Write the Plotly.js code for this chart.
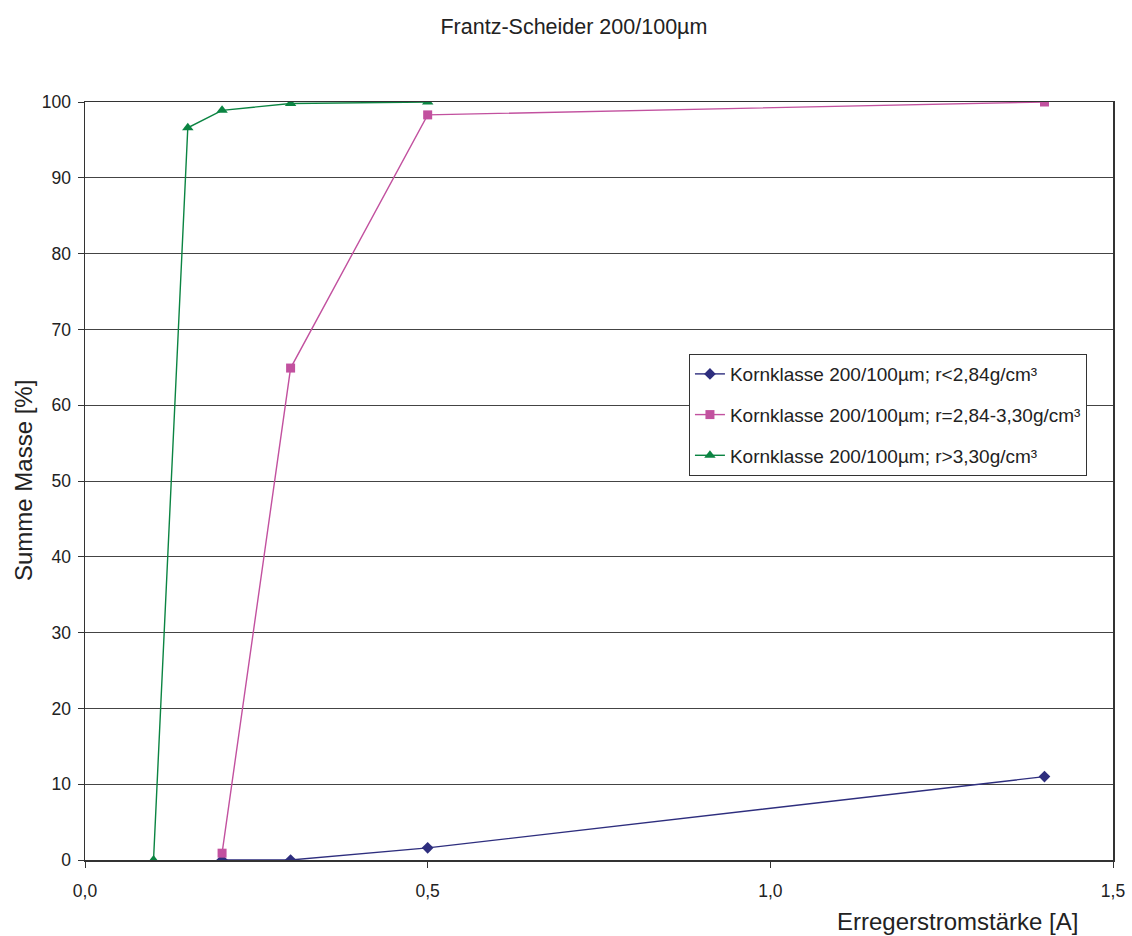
<!DOCTYPE html>
<html>
<head>
<meta charset="utf-8">
<script src="https://cdn.plot.ly/plotly-3.0.1.min.js"></script>
<style>html,body{margin:0;padding:0;background:#fff;}#chart{width:1132px;height:936px;}</style>
</head>
<body>
<div id="chart"></div>
<script>
const seriesNames = [
  "Kornklasse 200/100µm; r<2,84g/cm³",
  "Kornklasse 200/100µm; r=2,84-3,30g/cm³",
  "Kornklasse 200/100µm; r>3,30g/cm³"
];
const xLow = [0.2, 0.3, 0.5, 1.4];
const yLow = [0, 0, 1.6, 11.0];
const xMid = [0.2, 0.3, 0.5, 1.4];
const yMid = [0.9, 64.9, 98.3, 100];
const xHigh = [0.1, 0.15, 0.2, 0.3, 0.5];
const yHigh = [0, 96.6, 98.9, 99.8, 100];
const xTicks = [0, 0.5, 1.0, 1.5];
const xTickLabels = ["0,0", "0,5", "1,0", "1,5"];

const font = "Liberation Sans, Arial, sans-serif";
const traces = [
  {x: xLow, y: yLow, name: seriesNames[0], mode: "lines+markers", legendgroup: "a",
   line: {color: "#2E2E7E", width: 1.4}, marker: {symbol: "diamond", size: 9, color: "#2E2E7E"}},
  {x: xMid, y: yMid, name: seriesNames[1], mode: "lines+markers", legendgroup: "b",
   line: {color: "#C2519F", width: 1.4}, marker: {symbol: "square", size: 9, color: "#C2519F"}},
  {x: xHigh, y: yHigh, name: seriesNames[2], mode: "lines+markers", legendgroup: "c",
   line: {color: "#0B8442", width: 1.4}, marker: {symbol: "triangle-up", size: 10, color: "#0B8442"}}
];
const layout = {
  width: 1132, height: 936,
  margin: {l: 85, r: 19, t: 102, b: 76},
  paper_bgcolor: "#fff", plot_bgcolor: "#fff",
  separators: ", ",
  font: {family: font, size: 17.5, color: "#222"},
  title: {text: "Frantz-Scheider 200/100µm", x: 0.507, xanchor: "center", y: 0.972, yanchor: "middle", font: {family: font, size: 21.5, color: "#222"}},
  showlegend: true,
  legend: {x: 0.5875, y: 0.6675, xanchor: "left", yanchor: "top", bgcolor: "#fff", bordercolor: "#333", borderwidth: 1,
    traceorder: "grouped", tracegroupgap: 13, font: {family: font, size: 19, color: "#222"}},
  xaxis: {range: [0, 1.5], tickvals: xTicks, ticktext: xTickLabels, ticks: "outside", ticklen: 6, tickcolor: "#333",
    ticklabelstandoff: 8,
    showline: true, linecolor: "#333", linewidth: 1.5, mirror: true, showgrid: false, zeroline: false,
    tickfont: {size: 17.5, color: "#222"}},
  yaxis: {range: [0, 100], dtick: 10, ticks: "outside", ticklen: 6, tickcolor: "#333",
    ticklabelstandoff: 3,
    showline: true, linecolor: "#333", linewidth: 1.5, mirror: true, showgrid: true, gridcolor: "#444", gridwidth: 1,
    zeroline: false, tickfont: {size: 17.5, color: "#222"}},
  annotations: [
    {text: "Erregerstromstärke [A]", xref: "paper", yref: "paper", x: 0.9675, y: -0.0805, xanchor: "right", yanchor: "middle", showarrow: false, font: {family: font, size: 24, color: "#222"}},
    {text: "Summe Masse [%]", xref: "paper", yref: "paper", x: -0.0603, y: 0.5, xanchor: "center", yanchor: "middle", textangle: -90, showarrow: false, font: {family: font, size: 24, color: "#222"}}
  ]
};
Plotly.newPlot("chart", traces, layout, {displayModeBar: false, staticPlot: true});
</script>
</body>
</html>
